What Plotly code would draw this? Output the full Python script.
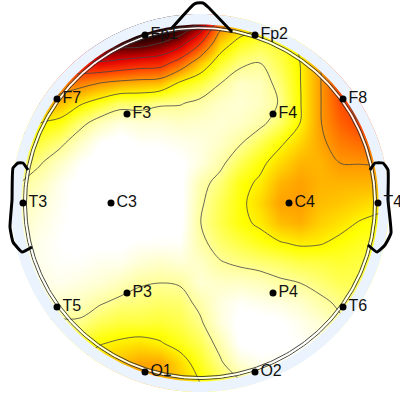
import numpy as np
import plotly.graph_objects as go

grid_x = list(range(20, 381, 20))
grid_y = list(range(23, 384, 20))

# Estimated potential, one list per grid column (top to bottom)
col_020 = [5, 5, 4.5, 3.8, 3.2, 2.4, 1.8, 1.4, 1.0, .8, .6, .5, .4, .5, .7, 1.1, 1.6, 2, 2.2]
col_040 = [5, 5, 4.5, 3.6, 3, 2, 1.5, 1.05, .7, .5, .4, .3, .3, .4, .6, 1.1, 1.6, 2, 2.2]
col_060 = [5.5, 5.3, 4.5, 3.5, 2.6, 1.8, 1.15, .6, .3, .25, .2, .15, .2, .3, .6, 1.1, 1.6, 2, 2.2]
col_080 = [6, 5.8, 4.8, 3.3, 2.1, 1.2, .6, .2, .05, .05, .05, .1, .2, .4, .7, 1.1, 1.6, 2.1, 2.4]
col_100 = [7, 6.3, 4.9, 3, 1.7, .7, .15, 0, 0, 0, 0, .1, .3, .5, .95, 1.4, 1.95, 2.4, 2.6]
col_120 = [8, 6.4, 4.7, 2.8, 1.3, .4, 0, 0, 0, 0, 0, .1, .3, .7, 1.15, 1.55, 2.1, 2.6, 2.8]
col_140 = [9, 6.4, 4.5, 2.7, 1.3, .5, .2, 0, 0, 0, 0, .2, .5, .95, 1.2, 1.55, 2.2, 2.85, 2.9]
col_160 = [8.5, 6, 4.4, 2.6, 1.1, .5, .2, 0, 0, 0, .1, .2, .6, 1.0, 1.3, 1.6, 2.05, 2.85, 2.9]
col_180 = [7, 5.4, 3.6, 1.9, 1.05, .6, .3, .1, .05, .05, .05, .2, .5, .95, 1.25, 1.45, 1.75, 2.3, 2.5]
col_200 = [5.9, 4.1, 2.5, 1.55, .85, .55, .4, .4, .8, .9, .98, .85, .6, .5, .85, 1.1, 1.4, 1.7, 2.0]
col_220 = [3.4, 2.4, 1.65, 1.02, .6, .5, .6, .85, 1.2, 1.4, 1.45, 1.25, .95, .6, .4, .45, .8, 1.1, 1.5]
col_240 = [2.6, 1.75, 1.15, .6, .5, .6, .95, 1.4, 1.8, 1.85, 1.85, 1.5, 1.1, .6, .2, .05, .1, .5, 1.1]
col_260 = [2.2, 1.5, 1.0, .7, .65, .85, 1.4, 1.85, 2.1, 2.3, 2.1, 1.75, 1.2, .7, .3, .05, 0, .3, .8]
col_280 = [1.9, 1.6, 1.45, 1.2, 1.05, 1.3, 1.9, 2.3, 2.7, 2.9, 2.6, 1.95, 1.3, .9, .4, .1, .1, .3, .7]
col_300 = [2.2, 2.1, 2, 1.97, 1.95, 2, 2.35, 2.7, 2.9, 2.95, 2.75, 2.1, 1.45, 1.0, .55, .3, .2, .3, .7]
col_320 = [3, 3, 2.95, 2.95, 2.95, 2.95, 2.85, 2.7, 2.7, 2.6, 2.4, 2.05, 1.5, 1.2, .85, .5, .4, .5, .9]
col_340 = [3.9, 3.9, 3.8, 4, 3.85, 3.6, 3.3, 3, 2.7, 2.5, 2.2, 1.85, 1.6, 1.4, 1.1, .9, .8, .8, 1]
col_360 = [4.4, 4.4, 4.4, 4.4, 4.2, 4, 3.5, 3.02, 2.7, 2.35, 1.95, 1.7, 1.5, 1.4, 1.2, 1.1, 1, 1, 1]
col_380 = [4.5, 4.5, 4.5, 4.5, 4.4, 4.2, 3.7, 3.05, 2.7, 2.2, 1.8, 1.6, 1.5, 1.4, 1.2, 1.1, 1, 1, 1]

columns = [col_020, col_040, col_060, col_080, col_100, col_120, col_140, col_160, col_180, col_200,
           col_220, col_240, col_260, col_280, col_300, col_320, col_340, col_360, col_380]
z = np.array(columns).T.tolist()

electrodes = ["Fp1", "Fp2", "F7", "F3", "F4", "F8", "T3", "C3", "C4", "T4", "T5", "P3", "P4", "T6", "O1", "O2"]
electrode_x = [145, 255, 57, 127, 273, 343, 23, 111, 289, 378, 57, 127, 273, 343, 145, 255]
electrode_y = [35, 35, 99, 114, 114, 99, 203, 203, 203, 203, 307, 293, 293, 307, 372, 372]

level_colors = [(0, "#ffffff"), (0.15, "#ffffff"), (1, "#ffff98"), (1.9, "#ffff00"), (3, "#ff9800"),
                (4, "#ff4000"), (5, "#e00000"), (6, "#600000"), (7, "#200000")]
colorscale = [[v / 7, c] for v, c in level_colors]

CX, CY = 200, 203


def ring(radius, reverse=False):
    t = np.linspace(0, 2 * np.pi, 361)
    if reverse:
        t = t[::-1]
    return (CX + radius * np.cos(t)).tolist(), (CY + radius * np.sin(t)).tolist()


fig = go.Figure()
fig.add_trace(go.Heatmap(x=grid_x, y=grid_y, z=z, colorscale=colorscale, zmin=0, zmax=7,
                         zsmooth="best", showscale=False, hoverinfo="skip"))
fig.add_trace(go.Contour(x=grid_x, y=grid_y, z=z, showscale=False, hoverinfo="skip",
                         contours=dict(coloring="none", start=1, end=6, size=1),
                         line=dict(color="#444444", width=0.8, smoothing=1)))

# light blue band round the head
ox, oy = ring(189)
ix, iy = ring(178.5, True)
fig.add_trace(go.Scatter(x=ox + ix, y=oy + iy, mode="none", fill="toself",
                         fillcolor="#eaf3fe", hoverinfo="skip"))
# white outside the band
ox2, oy2 = ring(189, True)
fig.add_trace(go.Scatter(x=[405] + ox2 + [405, 405, -5, -5, 405, 405],
                         y=[203] + oy2 + [203, 405, 405, -5, -5, 203],
                         mode="none", fill="toself", fillcolor="#ffffff", hoverinfo="skip"))

for r, color, w in [(176.5, "#333333", 0.9), (175, "#ffffff", 1.6), (173.5, "#333333", 0.9)]:
    rx, ry = ring(r)
    fig.add_trace(go.Scatter(x=rx, y=ry, mode="lines", line=dict(color=color, width=w), hoverinfo="skip"))

nose_x = [172, 193, 197, 203, 208, 232]
nose_y = [28, 5, 3, 3, 7, 32]
left_ear_x = [28, 23, 18, 13, 12, 10, 13, 22, 32]
left_ear_y = [170, 163, 163, 168, 200, 227, 242, 252, 247]
right_ear_x = [370, 375, 383, 388, 388, 391, 385, 377, 368]
right_ear_y = [170, 163, 163, 170, 200, 233, 245, 252, 245]
for ax_, ay_ in [(nose_x, nose_y), (left_ear_x, left_ear_y), (right_ear_x, right_ear_y)]:
    fig.add_trace(go.Scatter(x=ax_, y=ay_, mode="lines", hoverinfo="skip",
                             line=dict(color="black", width=3, shape="spline", smoothing=0.4)))

fig.add_trace(go.Scatter(x=electrode_x, y=electrode_y, mode="markers+text", text=electrodes,
                         textposition="middle right",
                         textfont=dict(family="Liberation Sans, Arial, sans-serif", size=16, color="#111111"),
                         marker=dict(color="black", size=7), hoverinfo="text", cliponaxis=False))

fig.update_layout(width=400, height=400, margin=dict(l=0, r=0, t=0, b=0), showlegend=False,
                  paper_bgcolor="white", plot_bgcolor="white",
                  xaxis=dict(range=[0, 400], visible=False, fixedrange=True),
                  yaxis=dict(range=[400, 0], visible=False, fixedrange=True))
fig.write_html("out.html", config={"displayModeBar": False},
               post_script="document.body.style.margin='0';document.documentElement.style.overflow='hidden';")
